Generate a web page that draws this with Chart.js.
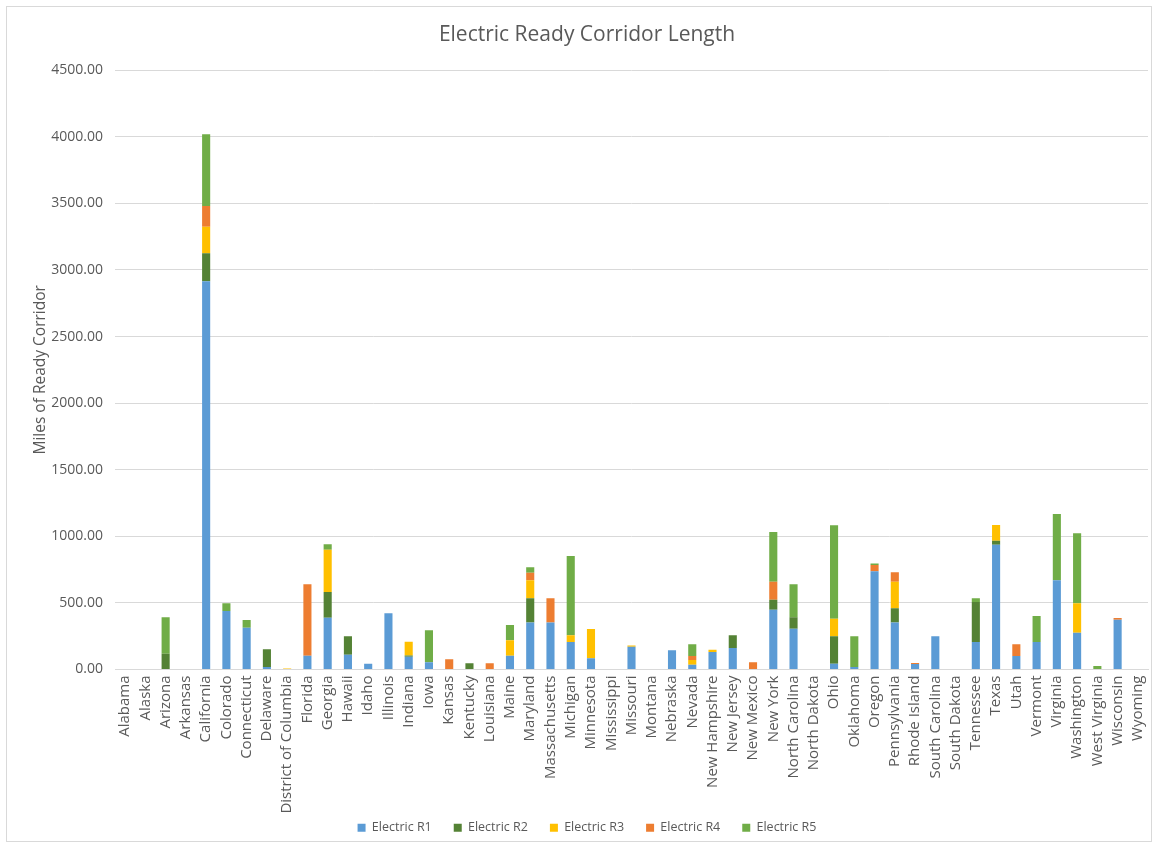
<!DOCTYPE html>
<html>
<head>
<meta charset="utf-8">
<title>Electric Ready Corridor Length</title>
<script src="https://cdn.jsdelivr.net/npm/chart.js@4/dist/chart.umd.min.js"></script>
<style>
    html, body { margin: 0; padding: 0; background: #fff; }
    #wrap {
        position: absolute; left: 6px; top: 6px;
        width: 1146px; height: 836px;
        border: 1px solid #d9d9d9; box-sizing: border-box;
    }
    canvas { position: absolute; left: 0; top: 0; }
</style>
</head>
<body>
<div id="wrap"></div>
<canvas id="chart" width="1158" height="848"></canvas>
<script>
// Estados y longitud de corredor (millas) por nivel de preparación
const states = ['Alabama', 'Alaska', 'Arizona', 'Arkansas', 'California', 'Colorado', 'Connecticut',
    'Delaware', 'District of Columbia', 'Florida', 'Georgia', 'Hawaii', 'Idaho', 'Illinois', 'Indiana',
    'Iowa', 'Kansas', 'Kentucky', 'Louisiana', 'Maine', 'Maryland', 'Massachusetts', 'Michigan',
    'Minnesota', 'Mississippi', 'Missouri', 'Montana', 'Nebraska', 'Nevada', 'New Hampshire',
    'New Jersey', 'New Mexico', 'New York', 'North Carolina', 'North Dakota', 'Ohio', 'Oklahoma',
    'Oregon', 'Pennsylvania', 'Rhode Island', 'South Carolina', 'South Dakota', 'Tennessee', 'Texas',
    'Utah', 'Vermont', 'Virginia', 'Washington', 'West Virginia', 'Wisconsin', 'Wyoming'];

const electricR1 = [0, 0, 0, 0, 2915, 439, 314, 19, 0, 104, 389, 111, 44, 422, 96,
    54, 0, 0, 0, 104, 352, 352, 207, 84, 0, 171, 0, 144, 36, 131,
    161, 0, 449, 306, 0, 44, 19, 737, 352, 41, 249, 0, 207, 937,
    101, 207, 670, 276, 0, 374, 0];
const electricR2 = [0, 0, 118, 0, 211, 0, 0, 133, 0, 0, 193, 138, 0, 0, 10,
    0, 0, 47, 0, 0, 183, 0, 0, 0, 0, 0, 0, 0, 0, 0,
    96, 0, 75, 86, 0, 205, 0, 0, 108, 0, 0, 0, 300, 30,
    0, 0, 0, 0, 0, 0, 0];
const electricR3 = [0, 0, 0, 0, 199, 0, 0, 0, 8, 0, 318, 0, 0, 0, 102,
    0, 0, 0, 0, 115, 135, 0, 50, 220, 0, 10, 0, 0, 35, 18,
    0, 0, 0, 0, 0, 133, 0, 0, 199, 0, 0, 0, 0, 118,
    0, 0, 0, 221, 0, 0, 0];
const electricR4 = [0, 0, 0, 0, 156, 0, 0, 0, 0, 536, 0, 0, 0, 0, 0,
    0, 77, 0, 47, 0, 57, 183, 0, 0, 0, 0, 0, 0, 30, 0,
    0, 54, 135, 0, 0, 0, 0, 48, 71, 8, 0, 0, 0, 0,
    88, 0, 0, 0, 0, 13, 0];
const electricR5 = [0, 0, 275, 0, 538, 58, 58, 0, 0, 0, 40, 0, 0, 0, 0,
    240, 0, 0, 0, 115, 40, 0, 595, 0, 0, 0, 0, 0, 88, 0,
    0, 0, 374, 248, 0, 701, 230, 10, 0, 0, 0, 0, 28, 0,
    0, 195, 498, 526, 26, 0, 0];

const series = [
    { label: 'Electric R1', data: electricR1, color: '#5B9BD5' },
    { label: 'Electric R2', data: electricR2, color: '#548235' },
    { label: 'Electric R3', data: electricR3, color: '#FFC000' },
    { label: 'Electric R4', data: electricR4, color: '#ED7D31' },
    { label: 'Electric R5', data: electricR5, color: '#70AD47' }
];

Chart.defaults.font.family = "'Open Sans', sans-serif";
Chart.defaults.color = '#595959';

new Chart(document.getElementById('chart'), {
    type: 'bar',
    data: {
        labels: states,
        datasets: series.map(s => ({
            label: s.label,
            data: s.data,
            backgroundColor: s.color,
            borderWidth: 0,
            barPercentage: 0.4,
            categoryPercentage: 1
        }))
    },
    options: {
        responsive: false,
        animation: false,
        layout: { padding: { left: 26, right: 10, top: 14, bottom: 4 } },
        scales: {
            x: {
                stacked: true,
                grid: { display: false, tickLength: 4 },
                border: { color: '#d9d9d9' },
                ticks: {
                    autoSkip: false,
                    maxRotation: 90,
                    minRotation: 90,
                    padding: 2,
                    font: { size: 15 },
                    color: '#595959'
                },
                afterFit: scale => {
                    scale.height = 130;
                    // sin recorte: "District of Columbia" es más largo que el eje
                    scale._computeLabelArea = () => undefined;
                }
            },
            y: {
                stacked: true,
                min: 0,
                max: 4500,
                grid: { color: '#d9d9d9', drawTicks: false },
                border: { display: false },
                ticks: {
                    stepSize: 500,
                    padding: 12,
                    font: { size: 14 },
                    color: '#595959',
                    callback: v => v.toFixed(2)
                },
                title: {
                    display: true,
                    text: 'Miles of Ready Corridor',
                    font: { size: 15.5 },
                    color: '#595959',
                    padding: { top: 5, bottom: 0 }
                },
                afterFit: scale => { scale.width = 89; }
            }
        },
        plugins: {
            title: {
                display: true,
                text: 'Electric Ready Corridor Length',
                font: { size: 21, weight: 'normal' },
                color: '#595959',
                padding: { top: 8, bottom: 23 }
            },
            legend: {
                position: 'bottom',
                labels: {
                    boxWidth: 8,
                    boxHeight: 8,
                    padding: 22,
                    font: { size: 12.5 },
                    color: '#595959'
                }
            },
            tooltip: { enabled: false }
        }
    }
});
</script>
</body>
</html>
